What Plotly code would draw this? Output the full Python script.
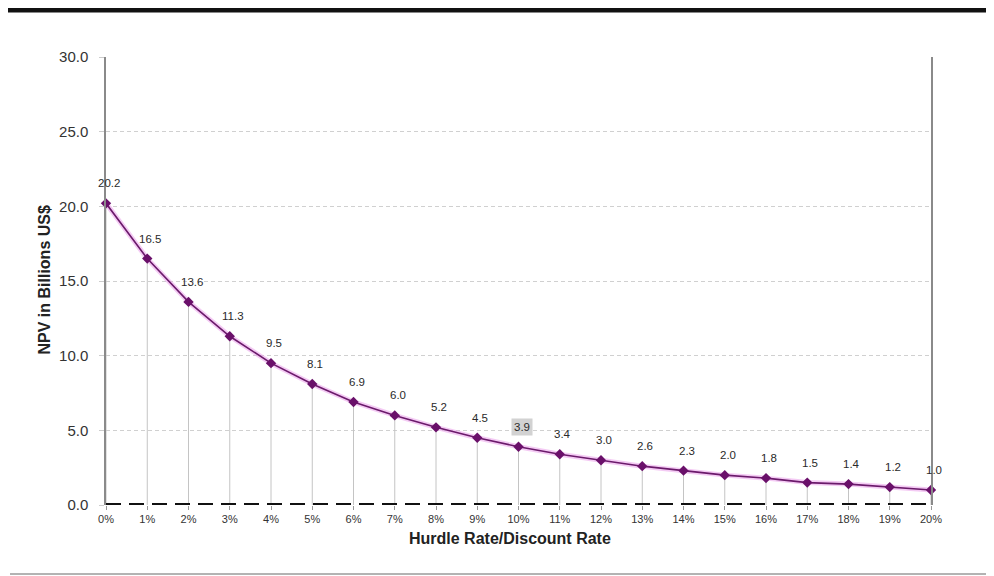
import plotly.graph_objects as go

rates = list(range(0, 21))
rate_labels = [f"{r}%" for r in rates]
npv = [20.2, 16.5, 13.6, 11.3, 9.5, 8.1, 6.9, 6.0, 5.2, 4.5, 3.9,
       3.4, 3.0, 2.6, 2.3, 2.0, 1.8, 1.5, 1.4, 1.2, 1.0]
y_ticks = [0, 5, 10, 15, 20, 25, 30]
highlight_idx = 10

FONT = "Liberation Sans, Arial, sans-serif"

# page body has an 8px default margin; figure is sized to fit in the window
W, H = 986, 568
L, R, T, B = 98, 63, 49, 71
PW = W - L - R
PH = H - T - B


def px_x(p):  # window pixel -> paper x
    return (p - 8 - L) / PW


def px_y(p):  # window pixel -> paper y
    return (H - B - (p - 8)) / PH


fig = go.Figure()

# glow under the line
fig.add_trace(go.Scatter(
    x=rates, y=npv, mode="lines",
    line=dict(color="rgba(235,160,235,0.55)", width=5),
    hoverinfo="skip", showlegend=False))

# main line with drop lines
fig.add_trace(go.Scatter(
    x=rates, y=npv, mode="lines+markers",
    line=dict(color="#6b1a6b", width=1.6),
    marker=dict(symbol="diamond", size=8, color="#6a106a"),
    error_y=dict(type="data", symmetric=False, array=[0] * len(npv),
                 arrayminus=npv, color="#c4c4c4", thickness=1, width=0),
    cliponaxis=False, showlegend=False))

shapes = [
    # dashed zero line
    dict(type="line", xref="x", yref="y", x0=rates[0], x1=rates[-1], y0=0, y1=0,
         line=dict(color="#111111", width=4, dash="15px,8px")),
    # top black bar
    dict(type="line", xref="paper", yref="paper", x0=px_x(0), x1=px_x(994),
         y0=px_y(10), y1=px_y(10), line=dict(color="#111111", width=5)),
    # bottom thin line
    dict(type="line", xref="paper", yref="paper", x0=px_x(10), x1=px_x(994),
         y0=px_y(574), y1=px_y(574), line=dict(color="#9a9a9a", width=1.5)),
]

annotations = []
for i, v in enumerate(npv):
    a = dict(text=f"{v:.1f}", x=rates[i], y=v, xref="x", yref="y",
             yshift=20, xshift=3, showarrow=False,
             font=dict(family=FONT, size=11.5, color="#2a2a2a"))
    if i == highlight_idx:
        a.update(bgcolor="#d2d2d2", borderpad=2)
    annotations.append(a)

annotations += [
    dict(text="<b>NPV in Billions US$</b>", xref="paper", yref="paper",
         x=px_x(33), y=px_y(280), textangle=-90, showarrow=False,
         font=dict(family=FONT, size=16, color="#222222")),
    dict(text="<b>Hurdle Rate/Discount Rate</b>", xref="paper", yref="paper",
         x=px_x(510), y=px_y(549), showarrow=False,
         font=dict(family=FONT, size=16, color="#222222")),
]

fig.update_layout(
    width=W, height=H,
    margin=dict(l=L, r=R, t=T, b=B),
    paper_bgcolor="white", plot_bgcolor="white",
    font=dict(family=FONT, size=11, color="#333333"),
    shapes=shapes, annotations=annotations,
    xaxis=dict(range=[rates[0], rates[-1]], tickvals=rates, ticktext=rate_labels,
               showgrid=False, zeroline=False, showline=False,
               ticks="outside", ticklen=4, tickcolor="#999999",
               tickfont=dict(family=FONT, size=11, color="#333333")),
    yaxis=dict(range=[0, 30], tickvals=y_ticks,
               ticktext=[f"{t:.1f}" for t in y_ticks],
               showgrid=True, gridcolor="#d0d0d0", griddash="4px,3px", gridwidth=1,
               zeroline=False, showline=True, mirror=True,
               linecolor="#8a8a8a", linewidth=1.5,
               ticks="outside", ticklen=5, tickcolor="#cccccc",
               ticklabelstandoff=8,
               tickfont=dict(family=FONT, size=15, color="#333333")),
)

fig.write_html("out.html")
